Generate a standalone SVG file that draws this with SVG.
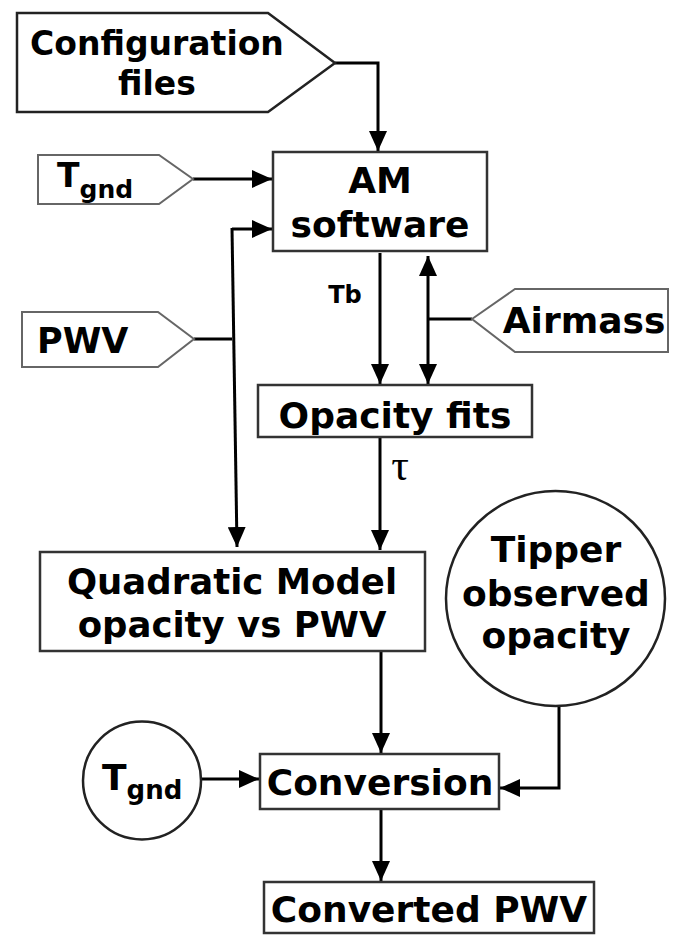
<svg xmlns="http://www.w3.org/2000/svg" width="675" height="935" viewBox="0 0 675 935">
  <style>
    .lbl { font-family: "DejaVu Sans", Verdana, sans-serif; font-weight: bold; fill: #000; }
    .box { fill: #fff; stroke: #333; stroke-width: 2.5; }
    .inp { fill: #fff; stroke: #666; stroke-width: 2; }
    .wire { fill: none; stroke: #000; stroke-width: 3; }
  </style>
  <defs>
    <marker id="ah" viewBox="0 0 20 18" refX="20" refY="9" markerWidth="20" markerHeight="18" orient="auto-start-reverse" markerUnits="userSpaceOnUse">
      <path d="M0,0 L20,9 L0,18 Z" fill="#000"/>
    </marker>
  </defs>
  <rect width="675" height="935" fill="#fff"/>

  <!-- connectors -->
  <g id="connectors">
    <path class="wire" d="M335,63 H378 V151" marker-end="url(#ah)"/>
    <path class="wire" d="M193,179 H272" marker-end="url(#ah)"/>
    <path class="wire" d="M194,339 H232"/>
    <path class="wire" d="M232,229 H272" marker-end="url(#ah)"/>
    <path class="wire" d="M232,228 L237,547" marker-end="url(#ah)"/>
    <path class="wire" d="M380,253 V384" marker-end="url(#ah)"/>
    <path class="wire" d="M428,256 V384" marker-start="url(#ah)" marker-end="url(#ah)"/>
    <path class="wire" d="M428,319 H472"/>
    <path class="wire" d="M380,438 V550" marker-end="url(#ah)"/>
    <path class="wire" d="M381,652 V753" marker-end="url(#ah)"/>
    <path class="wire" d="M201,779 H259" marker-end="url(#ah)"/>
    <path class="wire" d="M559,706 V788 H500" marker-end="url(#ah)"/>
    <path class="wire" d="M381,810 V881" marker-end="url(#ah)"/>
    <text class="lbl" x="345" y="303" font-size="24" text-anchor="middle">Tb</text>
    <text x="400" y="480" font-family="Liberation Serif, serif" font-size="44" text-anchor="middle">τ</text>
  </g>

  <g id="config">
    <path d="M17,13 H268 L335,63 L268,112 H17 Z" fill="#fff" stroke="#222" stroke-width="2.5"/>
    <text class="lbl" x="157" y="55" font-size="33" text-anchor="middle">Configuration</text>
    <text class="lbl" x="157" y="95" font-size="33" text-anchor="middle">files</text>
  </g>

  <g id="tgnd-in">
    <path class="inp" d="M38,155 H159 L193,179 L159,204 H38 Z"/>
    <text class="lbl" x="57" y="187" font-size="33">T<tspan font-size="25" dy="11">gnd</tspan></text>
  </g>

  <g id="pwv-in">
    <path class="inp" d="M22,312 H158 L194,339 L158,367 H22 Z"/>
    <text class="lbl" x="37" y="353" font-size="35">PWV</text>
  </g>

  <g id="airmass-in">
    <path class="inp" d="M472,319 L515,289 H668 V352 H515 Z"/>
    <text class="lbl" x="584" y="333" font-size="36" text-anchor="middle">Airmass</text>
  </g>

  <g id="am-software">
    <rect class="box" x="273" y="152" width="214" height="99"/>
    <text class="lbl" x="380" y="193" font-size="36" text-anchor="middle">AM</text>
    <text class="lbl" x="380" y="237" font-size="36" text-anchor="middle">software</text>
  </g>

  <g id="opacity-fits">
    <rect class="box" x="258" y="385" width="274" height="52"/>
    <text class="lbl" x="395" y="428" font-size="36" text-anchor="middle">Opacity fits</text>
  </g>

  <g id="quadratic-model">
    <rect class="box" x="40" y="552" width="385" height="99"/>
    <text class="lbl" x="232" y="594" font-size="35.5" text-anchor="middle">Quadratic Model</text>
    <text class="lbl" x="232" y="637" font-size="35.5" text-anchor="middle">opacity vs PWV</text>
  </g>

  <g id="tipper">
    <ellipse cx="555.5" cy="598.5" rx="109.5" ry="107.5" fill="#fff" stroke="#222" stroke-width="2.5"/>
    <text class="lbl" x="556" y="562" font-size="36" text-anchor="middle">Tipper</text>
    <text class="lbl" x="556" y="606" font-size="36" text-anchor="middle">observed</text>
    <text class="lbl" x="556" y="648" font-size="36" text-anchor="middle">opacity</text>
  </g>

  <g id="tgnd-circle">
    <circle cx="142" cy="780.5" r="59" fill="#fff" stroke="#222" stroke-width="2.5"/>
    <text class="lbl" x="102" y="790" font-size="36">T<tspan font-size="26" dy="9">gnd</tspan></text>
  </g>

  <g id="conversion">
    <rect class="box" x="260" y="754" width="239" height="55"/>
    <text class="lbl" x="380" y="795" font-size="36" text-anchor="middle">Conversion</text>
  </g>

  <g id="converted-pwv">
    <rect class="box" x="264" y="882" width="330" height="51"/>
    <text class="lbl" x="429" y="922" font-size="36" text-anchor="middle">Converted PWV</text>
  </g>
</svg>
